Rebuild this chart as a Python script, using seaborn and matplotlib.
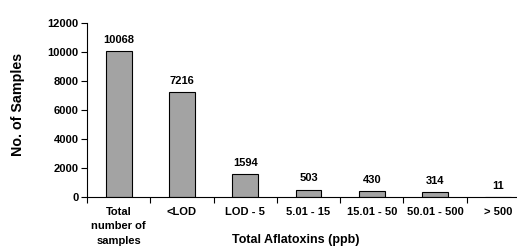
import numpy as np
import matplotlib
import seaborn as sns
from matplotlib import pyplot as plt

categories = ["Total\nnumber of\nsamples", "<LOD", "LOD - 5", "5.01 - 15",
              "15.01 - 50", "50.01 - 500", "> 500"]
values = [10068, 7216, 1594, 503, 430, 314, 11]
y_ticks = [0, 2000, 4000, 6000, 8000, 10000, 12000]

sns.set_style("ticks")
matplotlib.rcParams['font.family'] = ['Liberation Sans', 'DejaVu Sans']
matplotlib.rcParams['font.weight'] = 'bold'
matplotlib.rcParams['text.color'] = 'black'
matplotlib.rcParams['axes.labelcolor'] = 'black'
matplotlib.rcParams['xtick.color'] = 'black'
matplotlib.rcParams['ytick.color'] = 'black'
matplotlib.rcParams['axes.edgecolor'] = 'black'

W, H = 517, 248
fig = plt.figure(figsize=(W / 100, H / 100), dpi=100)
ax = fig.add_axes([87 / W, (H - 197) / H, (530 - 87) / W, 174 / H])

sns.barplot(x=list(range(len(values))), y=values, color='#a3a3a3',
            edgecolor='black', linewidth=0.8, width=0.41, saturation=1, ax=ax)

for i, v in enumerate(values):
    ax.annotate(str(v), (i, v), xytext=(0, 4.5), textcoords='offset points',
                ha='center', va='bottom', fontsize=8, fontweight='bold')

ax.set_xlim(-0.5, len(values) - 0.5)
ax.set_ylim(0, 12000)
ax.set_yticks(y_ticks)
ax.set_yticklabels([str(t) for t in y_ticks], fontsize=8, fontweight='bold')

ax.set_xticks(np.arange(-0.5, len(values), 1))
ax.set_xticklabels([])
ax.set_xticks(np.arange(len(values)), minor=True)
ax.set_xticklabels(categories, minor=True, fontsize=8, fontweight='bold',
                   linespacing=1.55, va='top')
ax.tick_params(axis='x', which='minor', length=0, pad=7)
ax.tick_params(axis='x', which='major', length=4, width=0.8, direction='out')
ax.tick_params(axis='y', length=4, width=0.8, pad=2)

for s in ['top', 'right']:
    ax.spines[s].set_visible(False)
ax.spines['left'].set_linewidth(0.8)
ax.spines['bottom'].set_linewidth(0.8)

ax.set_ylabel('No. of Samples', fontsize=10.3, fontweight='bold')
ax.yaxis.set_label_coords((25 - 87) / 443, 0.53)
ax.set_xlabel('Total Aflatoxins (ppb)', fontsize=9, fontweight='bold')
ax.xaxis.set_label_coords((296 - 87) / 443, -0.21)

plt.savefig('out.png', dpi=100)
